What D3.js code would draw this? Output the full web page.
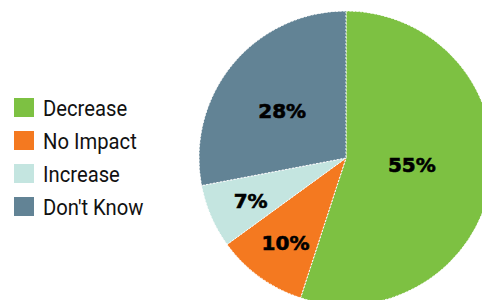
<!DOCTYPE html>
<html><head><meta charset="utf-8">
<script src="https://cdn.jsdelivr.net/npm/d3@7"></script>
<style>html,body{margin:0;padding:0;background:#fff;}</style>
</head><body>
<svg id="c" width="482" height="300"></svg>
<script>
const categories = ["Decrease", "No Impact", "Increase", "Don't Know"];
const values = [55, 10, 7, 28];
const labels = ["55%", "10%", "7%", "28%"];
const colors = ["#7DC142", "#F47920", "#C4E5E0", "#628395"];

const svg = d3.select("#c");
const cx = 346, cy = 158, R = 147;
const total = d3.sum(values);
const pie = d3.pie().sort(null).value(d => d)(values);
const arc = d3.arc().innerRadius(0).outerRadius(R);
const g = svg.append("g").attr("transform", `translate(${cx},${cy})`);
g.selectAll("path").data(pie).join("path")
  .attr("d", arc)
  .attr("fill", (d, i) => colors[i])
  .attr("stroke", "#fff")
  .attr("stroke-width", 1)
  .attr("stroke-dasharray", "2,1.5");

g.selectAll("text").data(pie).join("text")
  .attr("transform", d => {
    const share = d.value / total;
    const small = share < 0.15;
    const r = small ? R * 0.71 : R * (0.54 + (0.28 - share) * 0.333);
    const a = (d.startAngle + d.endAngle) / 2 - (small ? 0.01 : 0.055);
    return `translate(${Math.sin(a) * r},${-Math.cos(a) * r})`;
  })
  .attr("text-anchor", "middle")
  .attr("dy", "0.36em")
  .attr("font-family", "'DejaVu Sans', sans-serif")
  .attr("font-weight", "bold")
  .attr("font-size", 20)
  .attr("fill", "#000")
  .attr("stroke", "#000")
  .attr("stroke-width", 0.6)
  .text((d, i) => labels[i]);

const leg = svg.append("g").attr("transform", "translate(14,98)");
const y = d3.scalePoint().domain(categories).range([0, 99]);
const items = leg.selectAll("g").data(categories).join("g")
  .attr("transform", d => `translate(0,${y(d)})`);
items.append("rect").attr("width", 20).attr("height", 19)
  .attr("fill", (d, i) => colors[i]);
items.append("text")
  .attr("transform", "translate(29,10) scale(0.92,1)")
  .attr("dy", "0.36em")
  .attr("font-family", "'Roboto', sans-serif")
  .attr("font-size", 22).attr("fill", "#111")
  .text(d => d);
</script>
</body></html>
